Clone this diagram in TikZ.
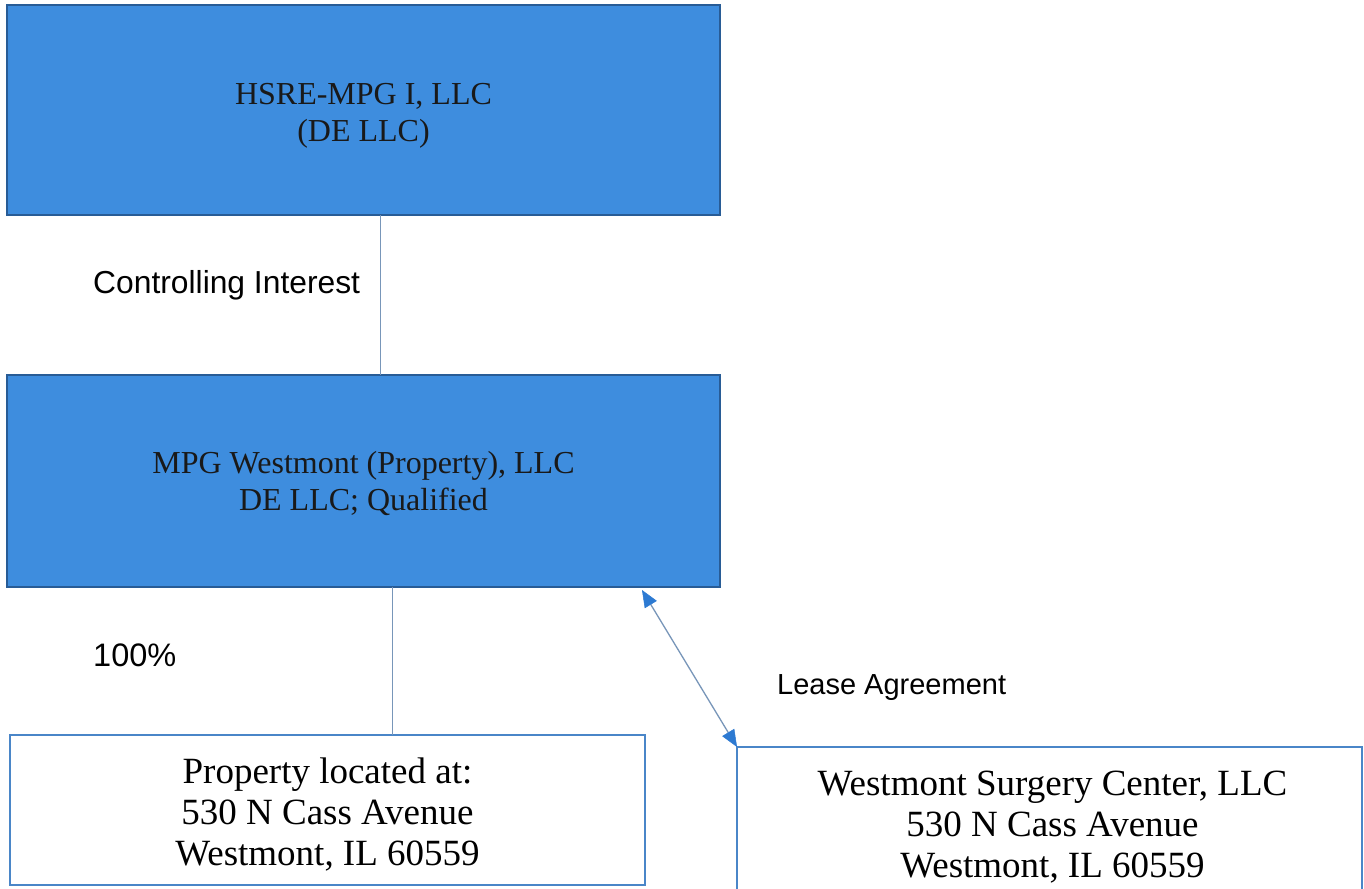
\documentclass[tikz,border=0pt]{standalone}
\usepackage{fontspec}
\setmainfont{Liberation Serif}
\newfontfamily\labelfont{Liberation Sans}
\usetikzlibrary{arrows.meta}
\definecolor{boxblue}{RGB}{62,141,222}
\definecolor{boxedge}{RGB}{40,92,150}
\definecolor{thinedge}{RGB}{74,134,200}
\definecolor{connline}{RGB}{120,150,185}
\definecolor{tipblue}{RGB}{45,122,210}
\tikzset{
  bluebox/.style={rectangle, fill=boxblue, draw=boxedge, line width=2.5pt, inner sep=0pt, outer sep=0pt,
    minimum width=713pt},
  bluetext/.style={inner sep=0pt, align=center, text=black!90, font=\fontsize{32}{37}\selectfont},
  whitebox/.style={rectangle, fill=white, draw=thinedge, line width=1.6pt, inner sep=0pt, outer sep=0pt},
  whitetext/.style={inner sep=0pt, align=center, font=\fontsize{37}{41}\selectfont},
  lbl/.style={anchor=west, inner sep=0pt, font=\labelfont\fontsize{31.8}{32}\selectfont},
  conn/.style={draw=connline, line width=1pt},
  leasetip/.tip={Triangle[length=17pt,width=14pt,color=tipblue,fill=tipblue,line width=0.5pt]},
  lease/.style={draw=connline, line width=1.3pt, leasetip-leasetip}
}
\begin{document}
\begin{tikzpicture}[x=1pt,y=-1pt]
\useasboundingbox (0,0) rectangle (1364,888);
\clip (0,0) rectangle (1364,888);
\fill[white] (0,0) rectangle (1364,888);
\node[bluebox, minimum height=210pt] (b1) at (363.5,110) {};
\node[bluetext] (b1t) at ([yshift=-6pt]b1.center) {HSRE-MPG I, LLC\\(DE LLC)};
\node[bluebox, minimum height=212pt] (b2) at (363.5,481) {};
\node[bluetext] (b2t) at ([yshift=-2pt]b2.center) {MPG Westmont (Property), LLC\\DE LLC; Qualified};
\node[whitebox, minimum width=635pt, minimum height=150pt] (b3) at (327.5,810) {};
\node[whitetext] (b3t) at ([yshift=-4pt]b3.center) {Property located at:\\530 N Cass Avenue\\Westmont, IL 60559};
\node[whitebox, line width=2pt, minimum width=625pt, minimum height=156pt] (b4) at (1049.5,825) {};
\node[whitetext] (b4t) at ([xshift=3pt,yshift=-2pt]b4.center) {Westmont Surgery Center, LLC\\530 N Cass Avenue\\Westmont, IL 60559};
\draw[conn] ([xshift=17pt]b1.south) -- ([xshift=17pt]b2.north);
\draw[conn] ([xshift=28.5pt]b2.south) -- ([xshift=28.5pt]b2.south |- b3.north);
\coordinate (ls) at ([xshift=-78pt,yshift=-3pt]b2.south east);
\draw[lease] (ls) -- (b4.north west);
\node[lbl] (t1) at (93,285) {Controlling Interest};
\node[lbl, font=\labelfont\fontsize{32.5}{33}\selectfont] (t2) at (93,655) {100\%};
\node[lbl, font=\labelfont\fontsize{29}{29}\selectfont] (t3) at (777,688) {Lease Agreement};
\end{tikzpicture}
\end{document}
